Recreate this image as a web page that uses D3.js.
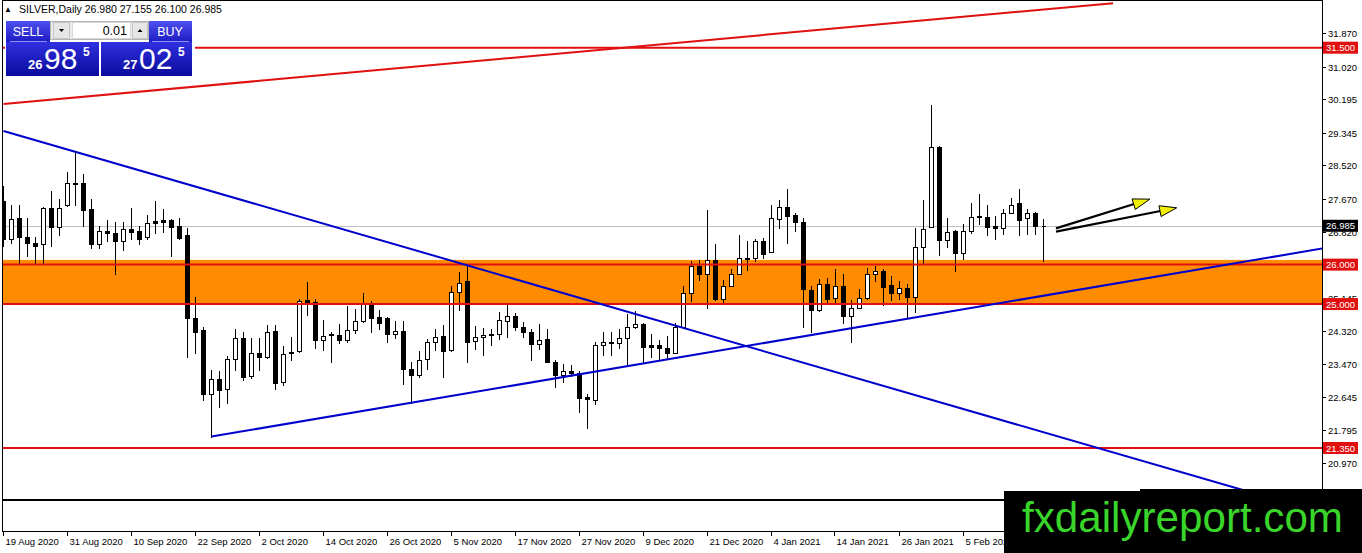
<!DOCTYPE html>
<html><head><meta charset="utf-8">
<script src="https://cdn.jsdelivr.net/npm/d3@7"></script>
<style>html,body{margin:0;padding:0;background:#fff;overflow:hidden}
svg{display:block;font-family:"Liberation Sans",Arial,sans-serif}</style>
</head><body><svg id="c" width="1362" height="553"></svg>
<script>
// ---- data ----
const symbol = "SILVER,Daily";
const opens = [27.61,26.64,27.19,26.70,26.55,26.51,27.44,26.96,27.51,28.08,28.06,27.40,26.53,26.86,26.81,26.59,26.91,26.85,26.69,27.10,
27.12,27.12,26.97,26.74,24.65,24.35,22.71,23.10,22.84,23.60,24.14,23.18,23.76,23.65,24.32,23.02,23.79,23.80,25.11,25.04,
24.08,24.25,24.21,24.08,24.33,24.56,25.03,24.67,24.65,24.25,24.32,23.35,23.19,23.60,24.04,24.20,23.84,25.31,25.59,24.06,
24.16,24.21,24.25,24.58,24.70,24.42,24.30,23.98,24.11,23.54,23.19,23.31,23.26,22.65,22.57,23.97,24.01,24.01,24.14,24.42,
24.50,23.95,23.95,23.88,23.77,24.43,25.28,25.97,25.76,26.12,25.13,25.47,25.76,26.14,26.17,26.61,26.32,27.16,27.47,27.27,
27.09,25.36,24.84,25.51,25.15,25.45,24.69,24.90,25.15,25.76,25.85,25.49,25.27,25.41,25.19,26.45,26.96,28.98,26.62,26.85,
26.30,26.85,27.23,27.21,26.97,26.93,27.30,27.55,27.19,27.31,26.980];
const highs = [27.99,27.50,27.50,27.19,26.70,27.46,27.86,27.67,28.35,28.84,28.29,27.67,26.99,27.14,27.07,27.07,27.44,26.97,27.27,27.61,
27.40,27.16,27.19,26.93,25.19,24.43,23.33,23.29,23.69,24.37,24.28,24.14,24.14,24.48,24.48,23.94,24.16,25.13,25.55,25.13,
24.60,24.28,24.50,24.94,24.87,25.28,25.09,24.84,24.66,24.58,24.56,23.54,23.80,24.11,24.37,24.48,25.45,25.80,26.00,24.45,
24.39,24.37,24.79,25.01,24.77,24.55,24.37,24.50,24.37,23.59,23.48,23.46,23.29,22.72,24.03,24.28,24.28,24.37,24.75,24.82,
24.53,24.25,24.08,24.20,24.52,25.47,26.08,26.11,27.38,26.53,25.62,25.89,26.74,26.59,26.64,26.68,27.52,27.65,27.91,27.31,
27.17,25.45,25.64,25.66,25.88,25.75,25.11,25.38,25.92,25.96,25.90,25.70,25.59,25.51,26.93,27.63,30.05,29.01,27.17,26.89,
27.02,27.56,27.78,27.51,27.23,27.40,27.68,27.92,27.40,27.34,27.155];
const lows = [26.47,26.55,26.04,26.21,26.04,26.04,26.47,26.76,27.48,27.52,26.99,26.42,26.42,26.59,25.77,26.36,26.64,26.53,26.65,26.81,
26.82,26.23,26.65,23.65,23.77,22.57,21.64,22.38,22.49,23.33,23.08,23.12,23.33,23.64,22.84,22.95,23.59,23.78,24.73,23.88,
23.84,23.52,24.01,24.05,24.26,24.55,24.30,24.37,24.05,24.14,22.98,22.50,23.15,23.35,23.84,23.16,23.82,24.84,23.52,23.86,
23.71,23.97,24.11,24.16,24.33,24.16,23.57,23.86,23.52,22.89,23.03,23.18,22.27,21.85,22.47,23.71,23.70,23.88,23.46,24.39,
23.52,23.65,23.59,23.63,23.76,24.39,25.09,25.60,24.90,25.11,25.04,25.46,25.75,25.87,26.08,26.16,26.31,26.93,26.55,26.85,
24.41,24.29,24.83,25.05,25.05,24.52,24.05,24.89,25.14,25.58,24.97,25.11,25.14,24.66,24.81,26.04,26.95,26.24,26.44,25.85,
26.13,26.81,27.02,26.76,26.64,26.78,27.30,26.76,26.78,26.78,26.100];
const closes = [26.64,27.16,26.70,26.55,26.47,27.44,26.96,27.44,28.08,28.04,27.38,26.53,26.86,26.81,26.59,26.91,26.82,26.65,27.06,27.06,
27.09,26.95,26.68,24.65,24.30,22.71,23.10,22.81,23.60,24.14,23.16,23.76,23.65,24.30,22.99,23.73,23.76,25.09,25.04,24.08,
24.20,24.21,24.08,24.35,24.58,25.03,24.65,24.53,24.25,24.32,23.35,23.19,23.59,24.05,24.16,23.82,25.31,25.53,24.04,24.16,
24.21,24.25,24.60,24.70,24.42,24.28,23.98,24.09,23.54,23.19,23.31,23.26,22.63,22.59,23.97,24.04,24.05,24.14,24.43,24.50,
23.91,23.91,23.88,23.77,24.43,25.28,25.97,25.77,26.12,25.13,25.47,25.76,26.17,26.17,26.61,26.28,27.19,27.47,27.23,27.09,
25.38,24.84,25.51,25.14,25.45,24.69,24.90,25.15,25.76,25.83,25.42,25.27,25.41,25.19,26.45,26.91,28.97,26.62,26.83,26.30,
26.86,27.21,27.21,26.96,26.93,27.30,27.51,27.14,27.31,26.97,26.985];

const dateLabels = ["19 Aug 2020","31 Aug 2020","10 Sep 2020","22 Sep 2020","2 Oct 2020","14 Oct 2020","26 Oct 2020","5 Nov 2020",
"17 Nov 2020","27 Nov 2020","9 Dec 2020","21 Dec 2020","4 Jan 2021","14 Jan 2021","26 Jan 2021","5 Feb 2021"];
const dateLabelBars = [0,8,16,24,32,40,48,56,64,72,80,88,96,104,112,120];
const priceTicks = [31.870,31.020,30.195,29.345,28.520,27.670,26.820,25.995,25.145,24.320,23.470,22.645,21.795,20.970];
const levelLines = [31.5, 26.0, 25.0, 21.35];
const zoneRange = [26.12, 24.98];
const blackLevel = 20.03;
const bidPrice = 26.985, askPrice = 27.025, lotSize = "0.01";
const redTrend = [[0, 30.07], [138.7, 32.63]];
const blueTrendDown = [[0, 29.39], [156, 20.22]];
const blueTrendUp = [[26, 21.64], [170, 26.585]];
const arrowLines = [[[131.56, 26.92], [143.3, 27.66]], [[131.56, 26.835], [146.65, 27.44]]];
const watermark = "fxdailyreport.com";

// ---- scales ----
const x = d3.scaleLinear().domain([0, 165]).range([3.5, 1323.5]);
const y = d3.scaleLinear().domain([21.35, 31.5]).range([448, 47.7]);
const plot = {x0: 3, x1: 1322, y0: 0, y1: 531};

const svg = d3.select("#c");
const defs = svg.append("defs");
defs.append("clipPath").attr("id","plotClip").append("rect")
  .attr("x",plot.x0).attr("y",plot.y0).attr("width",plot.x1-plot.x0).attr("height",plot.y1-plot.y0);
const g1 = defs.append("linearGradient").attr("id","bigBlue").attr("x1",0).attr("y1",0).attr("x2",0).attr("y2",1);
g1.append("stop").attr("offset","0%").attr("stop-color","#3030e0");
g1.append("stop").attr("offset","100%").attr("stop-color","#0a0a9c");
const g2 = defs.append("linearGradient").attr("id","hdrBlue").attr("x1",0).attr("y1",0).attr("x2",0).attr("y2",1);
g2.append("stop").attr("offset","0%").attr("stop-color","#5050ee");
g2.append("stop").attr("offset","100%").attr("stop-color","#1c1cc4");

const P = svg.append("g").attr("clip-path","url(#plotClip)");
const line = d3.line().x(d=>x(d[0])).y(d=>y(d[1]));

// zone rectangle
P.append("rect").attr("x",plot.x0).attr("width",plot.x1-plot.x0)
  .attr("y",y(zoneRange[0])).attr("height",y(zoneRange[1])-y(zoneRange[0]))
  .attr("fill","#ff8c00");

// current price grey line
P.append("line").attr("x1",plot.x0).attr("x2",plot.x1)
  .attr("y1",Math.round(y(bidPrice))+0.5).attr("y2",Math.round(y(bidPrice))+0.5)
  .attr("stroke","#c0c0c0").attr("stroke-width",1);

// candles
const cg = P.append("g").attr("shape-rendering","crispEdges");
opens.forEach((o,i)=>{
  const c = closes[i], h = highs[i], l = lows[i];
  const xc = x(i);
  cg.append("line").attr("x1",xc).attr("x2",xc)
    .attr("y1",Math.round(y(h))).attr("y2",Math.round(y(l))+1)
    .attr("stroke","#000").attr("stroke-width",1);
  const top = Math.round(y(Math.max(o,c)))+0.5, bot = Math.round(y(Math.min(o,c)))+0.5;
  const bull = c > o;
  cg.append("path")
    .attr("d",`M${xc-2},${top}H${xc+2}V${bot}H${xc-2}Z`)
    .attr("fill", bull ? "#fff" : "#000").attr("stroke","#000").attr("stroke-width",1);
});

// horizontal lines
levelLines.forEach(v=>{
  P.append("line").attr("x1",plot.x0).attr("x2",plot.x1).attr("y1",y(v)).attr("y2",y(v))
    .attr("stroke","#e01010").attr("stroke-width",2);
});
P.append("line").attr("x1",plot.x0).attr("x2",plot.x1).attr("y1",y(blackLevel)).attr("y2",y(blackLevel))
  .attr("stroke","#000").attr("stroke-width",2);

// trend lines
P.append("path").attr("d",line(redTrend)).attr("stroke","#e01010").attr("stroke-width",2).attr("fill","none");
P.append("path").attr("d",line(blueTrendDown)).attr("stroke","#0000cd").attr("stroke-width",2).attr("fill","none");
P.append("path").attr("d",line(blueTrendUp)).attr("stroke","#0000cd").attr("stroke-width",2).attr("fill","none");

// arrows
arrowLines.forEach(a=>{
  const x0 = x(a[0][0]), y0 = y(a[0][1]), x1 = x(a[1][0]), y1 = y(a[1][1]);
  const ang = Math.atan2(y1-y0, x1-x0), len = 17, hw = 5.5;
  const bx = x1 - len*Math.cos(ang), by = y1 - len*Math.sin(ang);
  P.append("line").attr("x1",x0).attr("y1",y0).attr("x2",bx+3*Math.cos(ang)).attr("y2",by+3*Math.sin(ang))
    .attr("stroke","#000").attr("stroke-width",2.2);
  const px = -Math.sin(ang), py = Math.cos(ang);
  P.append("polygon").attr("points",[[x1,y1],[bx+px*hw,by+py*hw],[bx-px*hw,by-py*hw]].map(p=>p.join(",")).join(" "))
    .attr("fill","#f0f000").attr("stroke","#000").attr("stroke-width",1);
});

// frame
svg.append("rect").attr("x",2.5).attr("y",0.5).attr("width",1320).attr("height",531)
  .attr("fill","none").attr("stroke","#000").attr("stroke-width",1).attr("shape-rendering","crispEdges");

// price axis
const ax = svg.append("g").attr("font-size","9.5px").attr("fill","#000");
priceTicks.forEach(v=>{
  const yy = Math.round(y(v))+0.5;
  ax.append("line").attr("x1",1322).attr("x2",1326).attr("y1",yy).attr("y2",yy).attr("stroke","#000").attr("shape-rendering","crispEdges");
  ax.append("text").attr("x",1328).attr("y",yy+3.5).text(v.toFixed(3));
});
function priceBox(v, color){
  const yy = y(v);
  ax.append("rect").attr("x",1323).attr("y",yy-6).attr("width",35).attr("height",12).attr("fill",color);
  ax.append("text").attr("x",1326).attr("y",yy+3.5).attr("fill","#fff").text(v.toFixed(3));
}
levelLines.forEach(v=>priceBox(v,"#e01010"));
priceBox(bidPrice,"#000");

// time axis
const tx = svg.append("g").attr("font-size","9.5px");
dateLabelBars.forEach((b,k)=>{
  const xx = Math.round(x(b))-0.5;
  tx.append("line").attr("x1",xx).attr("x2",xx).attr("y1",531).attr("y2",536).attr("stroke","#000").attr("shape-rendering","crispEdges");
  tx.append("text").attr("x",xx+2).attr("y",545).text(dateLabels[k]);
});

// header
const last = opens.length-1;
svg.append("text").attr("x",4).attr("y",12).attr("font-size","8px").text("\u25B2");
svg.append("text").attr("x",19).attr("y",12.5).attr("font-size","10.5px")
  .text(`${symbol}  ${opens[last].toFixed(3)} ${highs[last].toFixed(3)} ${lows[last].toFixed(3)} ${closes[last].toFixed(3)}`);

// one-click trading panel
const pn = svg.append("g");
pn.append("rect").attr("x",5).attr("y",19).attr("width",190).attr("height",58).attr("fill","#fff");
pn.append("rect").attr("x",6).attr("y",21).attr("width",44).attr("height",21).attr("fill","url(#hdrBlue)");
pn.append("rect").attr("x",149).attr("y",21).attr("width",43).attr("height",21).attr("fill","url(#hdrBlue)");
pn.append("rect").attr("x",6).attr("y",42).attr("width",93).attr("height",34).attr("fill","url(#bigBlue)");
pn.append("rect").attr("x",101).attr("y",42).attr("width",91).attr("height",34).attr("fill","url(#bigBlue)");
pn.append("line").attr("x1",10).attr("x2",47).attr("y1",41.5).attr("y2",41.5).attr("stroke","#8f8ff5");
pn.append("line").attr("x1",152).attr("x2",189).attr("y1",41.5).attr("y2",41.5).attr("stroke","#8f8ff5");
pn.append("rect").attr("x",50.5).attr("y",21.5).attr("width",98).attr("height",18).attr("fill","#ececec").attr("stroke","#b4b4b4");
pn.append("rect").attr("x",53.5).attr("y",22.5).attr("width",16).attr("height",16).attr("fill","#e6e6e6").attr("stroke","#c4c4c4");
pn.append("rect").attr("x",72.5).attr("y",22.5).attr("width",58).attr("height",16).attr("fill","#fff").attr("stroke","#d8d8d8");
pn.append("rect").attr("x",132.5).attr("y",22.5).attr("width",15).attr("height",16).attr("fill","#e6e6e6").attr("stroke","#c4c4c4");
pn.append("path").attr("d","M59,29 L64,29 L61.5,32 Z").attr("fill","#000");
pn.append("path").attr("d","M137.5,32 L142.5,32 L140,29 Z").attr("fill","#000");
pn.append("text").attr("x",127).attr("y",35).attr("text-anchor","end").attr("font-size","12.5px").text(lotSize);
pn.append("text").attr("x",28).attr("y",36).attr("text-anchor","middle").attr("font-size","12.5px").attr("fill","#fff").text("SELL");
pn.append("text").attr("x",170).attr("y",36).attr("text-anchor","middle").attr("font-size","12.5px").attr("fill","#fff").text("BUY");
function quote(v, x0){
  const s = v.toFixed(3);           // e.g. 26.985
  const big = s.slice(0,2), mid = s.slice(3,5), pip = s.slice(5);
  pn.append("text").attr("x",x0).attr("y",68.5).attr("font-size","13px").attr("font-weight","bold").attr("fill","#fff").text(big);
  pn.append("text").attr("x",x0+16).attr("y",68.5).attr("font-size","30px").attr("fill","#fff").text(mid);
  pn.append("text").attr("x",x0+55).attr("y",56).attr("font-size","12px").attr("font-weight","bold").attr("fill","#fff").text(pip);
}
quote(bidPrice, 28);
quote(askPrice, 123);

// watermark
svg.append("path").attr("d","M1004,491H1140V489H1362V553H1004Z").attr("fill","#000");
svg.append("text").attr("x",1022).attr("y",532).attr("font-size","43px").attr("fill","#3ad52a")
  .attr("textLength",321).attr("lengthAdjust","spacingAndGlyphs").text(watermark);
</script></body></html>
